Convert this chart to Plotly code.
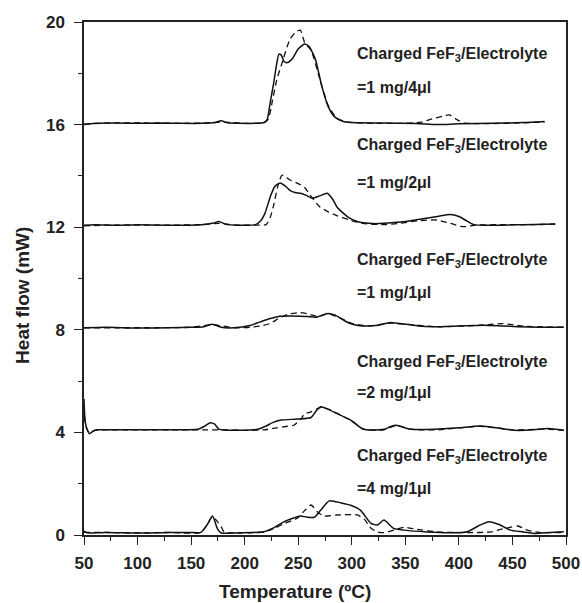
import plotly.graph_objects as go

# ---- Data ----
# Curve 1: 1 mg/4ul (offset ~16)
t1_solid = [50, 60, 80, 100, 120, 140, 160, 172, 178, 184, 195, 210, 218, 221, 224, 227, 230, 232, 234, 237, 240, 245, 250, 256, 260, 266, 272, 278, 284, 292, 300, 330, 360, 380, 400, 430, 460, 480]
v1_solid = [16.0, 16.05, 16.06, 16.05, 16.06, 16.05, 16.05, 16.08, 16.15, 16.07, 16.05, 16.05, 16.08, 16.2, 16.9, 17.6, 18.4, 18.75, 18.72, 18.45, 18.42, 18.6, 18.95, 19.14, 19.05, 18.55, 17.5, 16.7, 16.3, 16.12, 16.08, 16.06, 16.04, 16.0, 16.03, 16.05, 16.08, 16.12]
t1_dash = [50, 80, 110, 140, 170, 180, 200, 218, 222, 226, 230, 236, 242, 248, 252, 256, 262, 270, 278, 286, 296, 320, 350, 365, 375, 385, 391, 398, 405, 430, 460, 480]
v1_dash = [16.02, 16.07, 16.06, 16.05, 16.07, 16.1, 16.05, 16.08, 16.2, 16.95, 17.75, 18.55, 19.3, 19.62, 19.68, 19.2, 18.9, 17.8, 16.75, 16.25, 16.1, 16.05, 16.05, 16.1, 16.22, 16.33, 16.38, 16.2, 16.06, 16.04, 16.07, 16.1]

# Curve 2: 1 mg/2ul (offset ~12)
t2_solid = [50, 60, 80, 100, 130, 160, 170, 176, 182, 195, 210, 215, 219, 224, 228, 233, 238, 242, 247, 252, 257, 263, 270, 277, 282, 286, 292, 298, 305, 311, 320, 330, 345, 355, 365, 380, 392, 400, 406, 414, 430, 460, 490]
v2_solid = [12.08, 12.1, 12.08, 12.1, 12.08, 12.1, 12.15, 12.22, 12.12, 12.08, 12.1, 12.25, 12.55, 13.2, 13.58, 13.72, 13.6, 13.45, 13.35, 13.32, 13.25, 13.13, 13.22, 13.32, 13.1, 12.8, 12.55, 12.35, 12.22, 12.17, 12.14, 12.15, 12.2, 12.25, 12.32, 12.42, 12.5, 12.42, 12.28, 12.1, 12.08, 12.1, 12.12]
t2_dash = [50, 70, 100, 130, 160, 176, 190, 210, 220, 224, 227, 231, 235, 242, 250, 256, 262, 270, 278, 286, 298, 310, 330, 345, 361, 379, 392, 404, 416, 440, 470, 490]
v2_dash = [12.05, 12.08, 12.08, 12.08, 12.1, 12.15, 12.08, 12.08, 12.1, 12.4, 12.85, 13.6, 14.03, 13.85, 13.7, 13.55, 13.2, 12.8, 12.6, 12.45, 12.28, 12.15, 12.1, 12.15, 12.25, 12.28, 12.15, 12.02, 12.08, 12.1, 12.1, 12.12]

# Curve 3: 1 mg/1ul (offset ~8)
t3_solid = [50, 70, 100, 130, 150, 162, 170, 178, 190, 205, 214, 224, 233, 245, 258, 267, 273, 278, 284, 290, 298, 306, 314, 325, 336, 344, 351, 362, 376, 400, 423, 440, 455, 475, 498]
v3_solid = [8.08, 8.1, 8.07, 8.08, 8.1, 8.12, 8.22, 8.1, 8.08, 8.17, 8.3, 8.44, 8.53, 8.54, 8.52, 8.49, 8.58, 8.64, 8.58, 8.44, 8.25, 8.17, 8.15, 8.18, 8.28, 8.25, 8.22, 8.15, 8.12, 8.15, 8.18, 8.15, 8.12, 8.1, 8.1]
t3_dash = [50, 80, 110, 150, 170, 190, 205, 215, 224, 232, 240, 252, 261, 268, 278, 290, 300, 315, 336, 355, 380, 420, 441, 460, 498]
v3_dash = [8.08, 8.08, 8.08, 8.1, 8.2, 8.08, 8.1, 8.15, 8.25, 8.45, 8.6, 8.67, 8.6, 8.52, 8.62, 8.44, 8.25, 8.15, 8.26, 8.2, 8.12, 8.18, 8.24, 8.14, 8.1]

# Curve 4: 2 mg/1ul (offset ~4)
t4_solid = [50, 51, 53, 55, 58, 62, 80, 110, 140, 156, 163, 168, 172, 176, 190, 212, 220, 226, 234, 249, 262, 266, 271, 278, 286, 299, 311, 330, 336, 341, 348, 356, 377, 400, 420, 440, 452, 470, 483, 498]
v4_solid = [5.3, 4.45, 4.1, 3.95, 4.03, 4.1, 4.1, 4.1, 4.1, 4.12, 4.25, 4.38, 4.32, 4.13, 4.08, 4.12, 4.25, 4.38, 4.48, 4.52, 4.58, 4.8, 5.0, 4.9, 4.74, 4.48, 4.12, 4.12, 4.22, 4.28, 4.2, 4.12, 4.12, 4.18, 4.25, 4.15, 4.08, 4.1, 4.15, 4.08]
t4_dash = [50, 52, 55, 60, 80, 110, 140, 165, 180, 200, 218, 230, 240, 246, 252, 256, 262, 268, 272, 280, 290, 300, 311, 330, 341, 356, 380, 420, 450, 480, 498]
v4_dash = [5.0, 4.2, 4.0, 4.08, 4.1, 4.1, 4.1, 4.1, 4.1, 4.08, 4.1, 4.18, 4.24, 4.28, 4.5, 4.72, 4.8, 4.93, 4.98, 4.88, 4.66, 4.45, 4.13, 4.1, 4.27, 4.12, 4.1, 4.24, 4.1, 4.13, 4.08]

# Curve 5: 4 mg/1ul (offset ~0)
t5_solid = [50, 52, 55, 70, 100, 130, 150, 159, 165, 170, 174.5, 178, 190, 218, 228, 237, 245, 252, 258, 265, 271, 279, 290, 299, 308, 318, 324, 330, 339, 349, 370, 392, 408, 418, 428, 438, 448, 460, 470, 485, 498]
v5_solid = [0.15, 0.1, 0.08, 0.1, 0.08, 0.1, 0.1, 0.1, 0.4, 0.74, 0.25, 0.08, 0.08, 0.13, 0.3, 0.52, 0.65, 0.74, 0.7, 0.69, 0.97, 1.33, 1.25, 1.16, 0.97, 0.45, 0.39, 0.58, 0.26, 0.19, 0.12, 0.09, 0.13, 0.35, 0.52, 0.4, 0.19, 0.12, 0.06, 0.1, 0.13]
t5_dash = [50, 70, 100, 130, 159, 165, 170, 174, 178, 181, 190, 218, 230, 237, 249, 256, 262, 268, 274, 286, 305, 312, 318, 324, 330, 340, 349, 361, 380, 408, 430, 439, 448, 455, 464, 475, 498]
v5_dash = [0.1, 0.1, 0.08, 0.1, 0.1, 0.4, 0.72, 0.55, 0.33, 0.1, 0.08, 0.12, 0.3, 0.45, 0.65, 0.95, 1.17, 0.9, 0.74, 0.78, 0.78, 0.6, 0.26, 0.12, 0.09, 0.2, 0.3, 0.22, 0.12, 0.09, 0.12, 0.22, 0.3, 0.35, 0.19, 0.1, 0.1]

label_line1 = "Charged FeF<sub>3</sub>/Electrolyte"
ratio_labels = ["=1 mg/4\u03bcl", "=1 mg/2\u03bcl", "=1 mg/1\u03bcl", "=2 mg/1\u03bcl", "=4 mg/1\u03bcl"]
label_y1 = [18.75, 15.17, 10.72, 6.74, 3.08]
label_y2 = [17.43, 13.76, 9.47, 5.54, 1.83]
label_x = 303

x_title = "Temperature (\u00baC)"
y_title = "Heat flow (mW)"

x_ticks = [50, 100, 150, 200, 250, 300, 350, 400, 450, 500]
y_ticks = [0, 4, 8, 12, 16, 20]

# ---- Figure ----
FONT = "Liberation Sans, Arial, sans-serif"
fig = go.Figure()
series = [
    (t1_solid, v1_solid, t1_dash, v1_dash),
    (t2_solid, v2_solid, t2_dash, v2_dash),
    (t3_solid, v3_solid, t3_dash, v3_dash),
    (t4_solid, v4_solid, t4_dash, v4_dash),
    (t5_solid, v5_solid, t5_dash, v5_dash),
]
for ts, vs, td, vd in series:
    fig.add_trace(go.Scatter(x=td, y=vd, mode="lines",
                             line=dict(color="#111111", width=1.3, dash="6px,4px", shape="spline", smoothing=0.6),
                             showlegend=False, hoverinfo="skip"))
    fig.add_trace(go.Scatter(x=ts, y=vs, mode="lines",
                             line=dict(color="#111111", width=1.5, shape="spline", smoothing=0.6),
                             showlegend=False, hoverinfo="skip"))

for y1, y2, r in zip(label_y1, label_y2, ratio_labels):
    fig.add_annotation(x=label_x, y=y1, xref="x", yref="y", text="<b>" + label_line1 + "</b>",
                       showarrow=False, xanchor="left", yanchor="middle",
                       font=dict(family=FONT, size=16, color="#222222"))
    fig.add_annotation(x=label_x, y=y2, xref="x", yref="y", text="<b>" + r + "</b>",
                       showarrow=False, xanchor="left", yanchor="middle",
                       font=dict(family=FONT, size=16, color="#222222"))

# axis titles (placed as in the reference: slightly left of the plot centre)
fig.add_annotation(x=0.438, y=-0.111, xref="paper", yref="paper", text="<b>" + x_title + "</b>",
                   showarrow=False, xanchor="center", yanchor="middle",
                   font=dict(family=FONT, size=19, color="#222222"))
fig.add_annotation(x=-0.1266, y=0.468, xref="paper", yref="paper", text="<b>" + y_title + "</b>",
                   showarrow=False, xanchor="center", yanchor="middle", textangle=-90,
                   font=dict(family=FONT, size=19, color="#222222"))

fig.update_layout(
    width=582, height=603,
    margin=dict(l=84, r=16, t=22, b=68, autoexpand=False),
    paper_bgcolor="white", plot_bgcolor="white",
    font=dict(family=FONT, color="#222222"),
)
fig.update_xaxes(
    range=[50, 500], tickvals=x_ticks, ticktext=["<b>%d</b>" % v for v in x_ticks],
    ticks="outside", ticklen=8, tickwidth=1.3, tickcolor="#222222",
    minor=dict(dtick=25, tick0=0, ticks="outside", ticklen=4, tickwidth=1.2, tickcolor="#222222"),
    showline=True, linecolor="#222222", linewidth=1.5, mirror=True,
    showgrid=False, zeroline=False, ticklabelstandoff=4, automargin=False,
    tickfont=dict(family=FONT, size=17, color="#222222"),
)
fig.update_yaxes(
    range=[0, 20], tickvals=y_ticks, ticktext=["<b>%d</b>" % v for v in y_ticks],
    ticks="outside", ticklen=8, tickwidth=1.3, tickcolor="#222222",
    minor=dict(dtick=2, tick0=0, ticks="outside", ticklen=4, tickwidth=1.2, tickcolor="#222222"),
    showline=True, linecolor="#222222", linewidth=1.5, mirror=True,
    showgrid=False, zeroline=False, ticklabelstandoff=6, automargin=False,
    tickfont=dict(family=FONT, size=17, color="#222222"),
)

fig.write_html("out.html")
